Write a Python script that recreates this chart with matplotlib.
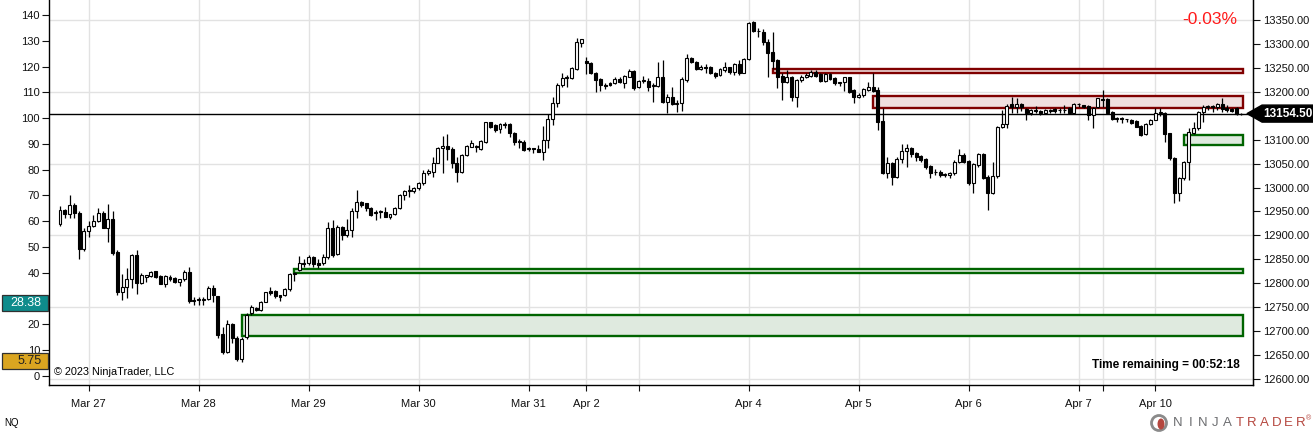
import matplotlib
matplotlib.use("Agg")
import matplotlib.pyplot as plt
import matplotlib.transforms as mtransforms
from matplotlib.patches import Rectangle, Polygon, Ellipse

plt.rcParams['font.family'] = ['Liberation Sans', 'DejaVu Sans']

# hourly NQ bars, values
opens = [58.8, 64.4, 62.7, 66.3, 63.1, 49.1, 56.3, 58.2, 60.1, 63.1,
         57.5, 60.9, 48.2, 32.7, 34.4, 37.5, 46.9, 36.2, 38.3, 38.9,
         40.7, 38.8, 35.8, 38.5, 37.9, 36.6, 37.5, 40.2, 29.2, 29.5,
         29.6, 29.9, 34.0, 31.0, 16.3, 9.4, 20.0, 14.9, 6.5, 15.0,
         24.3, 26.2, 25.6, 28.8, 33.0, 33.0, 31.3, 31.3, 33.6, 39.6,
         41.1, 43.7, 43.7, 46.3, 44.0, 43.7, 46.0, 57.5, 47.3, 57.9,
         54.7, 56.6, 64.0, 67.6, 67.0, 65.0, 63.3, 63.5, 63.7, 61.5,
         62.7, 65.0, 70.0, 71.9, 71.9, 72.8, 75.0, 78.8, 79.2, 82.7,
         88.3, 89.2, 87.9, 82.7, 79.2, 85.7, 88.9, 89.2, 88.0, 90.9,
         98.3, 97.3, 95.6, 97.3, 97.6, 94.4, 91.0, 90.9, 88.1, 88.2,
         87.9, 87.0, 91.5, 99.5, 106.0, 112.8, 115.7, 115.4, 119.0, 129.2,
         122.1, 121.5, 117.6, 115.0, 112.8, 113.7, 113.5, 115.0, 113.7, 116.1,
         118.4, 111.9, 114.4, 114.5, 112.6, 112.4, 115.8, 106.4, 108.1, 105.5,
         105.7, 114.8, 123.2, 121.9, 119.2, 119.9, 120.0, 117.6, 116.7, 118.6,
         119.7, 117.9, 121.0, 117.6, 122.8, 137.4, 133.9, 133.3, 129.6, 125.8,
         122.5, 116.3, 114.1, 115.8, 108.3, 114.8, 116.1, 116.3, 118.0, 117.0,
         114.5, 117.1, 115.4, 113.7, 114.1, 115.8, 110.9, 108.1, 109.0, 110.9,
         111.9, 110.9, 99.0, 78.6, 82.7, 77.3, 84.0, 87.4, 88.3, 86.6,
         85.3, 84.0, 81.4, 79.0, 79.2, 78.1, 77.9, 78.8, 83.1, 85.7,
         83.4, 75.0, 81.8, 86.1, 77.0, 70.8, 77.7, 96.4, 97.6, 105.3,
         104.4, 105.5, 103.4, 102.1, 102.9, 102.9, 102.1, 102.9, 103.5, 103.0,
         103.1, 103.8, 102.0, 105.3, 105.1, 104.8, 101.1, 104.4, 107.5, 107.4,
         102.4, 99.8, 99.7, 99.6, 99.4, 98.9, 97.0, 93.8, 97.9, 99.4,
         102.1, 102.1, 94.1, 84.4, 70.8, 76.6, 83.1, 94.4, 96.3, 102.4,
         104.4, 104.5, 104.2, 105.3, 103.8, 103.4, 103.8, 101.4]
highs = [65.9, 64.6, 70.2, 67.0, 64.0, 57.5, 60.1, 62.4, 65.0, 64.0,
         66.7, 64.0, 48.9, 39.4, 42.0, 47.2, 48.9, 39.8, 39.3, 40.7,
         40.8, 39.2, 39.2, 39.2, 38.4, 37.6, 41.1, 42.4, 30.7, 30.7,
         30.5, 34.9, 35.3, 31.2, 19.1, 21.7, 20.7, 15.5, 15.2, 24.3,
         27.5, 26.9, 29.1, 32.7, 34.4, 33.3, 31.4, 34.0, 39.8, 40.4,
         46.5, 45.2, 46.9, 46.5, 45.2, 47.3, 59.8, 60.5, 58.5, 58.2,
         60.7, 65.0, 72.1, 67.8, 67.2, 65.4, 64.4, 64.4, 65.7, 62.8,
         65.4, 70.4, 72.1, 74.1, 73.4, 75.4, 79.9, 80.1, 85.0, 88.9,
         93.1, 93.8, 88.9, 85.0, 86.1, 89.6, 91.5, 89.6, 91.5, 98.6,
         98.6, 97.7, 98.0, 98.6, 98.0, 94.7, 91.8, 91.5, 88.9, 88.3,
         89.6, 96.9, 101.6, 108.3, 113.5, 117.6, 116.7, 119.9, 130.9, 130.6,
         123.8, 121.9, 118.0, 115.4, 113.5, 114.1, 115.8, 115.8, 116.7, 118.9,
         118.6, 114.8, 116.3, 115.4, 113.5, 121.9, 122.7, 109.2, 111.9, 107.0,
         115.8, 124.9, 123.6, 122.1, 120.6, 120.9, 120.3, 118.0, 119.3, 121.9,
         119.9, 121.3, 122.5, 123.2, 137.4, 137.8, 134.8, 134.4, 130.5, 133.5,
         122.8, 117.4, 118.7, 116.3, 115.0, 116.6, 117.4, 118.6, 118.7, 117.4,
         117.4, 117.6, 115.8, 114.1, 116.1, 116.1, 111.2, 109.8, 111.5, 114.1,
         117.4, 111.9, 103.8, 85.0, 83.1, 85.0, 90.0, 90.0, 88.7, 87.0,
         85.7, 84.4, 81.8, 80.1, 79.9, 78.8, 79.2, 83.8, 87.9, 86.3,
         83.8, 82.5, 86.3, 86.3, 77.9, 83.1, 96.9, 103.1, 105.5, 108.3,
         107.7, 105.7, 103.8, 103.4, 104.7, 103.1, 103.4, 103.4, 103.8, 104.0,
         105.1, 104.4, 105.7, 105.7, 105.2, 105.1, 104.4, 107.9, 110.9, 107.7,
         102.9, 100.4, 100.3, 99.8, 99.8, 99.3, 97.3, 98.2, 99.8, 103.8,
         103.8, 102.4, 94.4, 84.8, 77.0, 83.4, 96.0, 98.6, 102.9, 105.1,
         105.1, 105.1, 105.7, 107.7, 105.1, 103.8, 104.4, 101.9]
lows = [58.3, 61.1, 61.4, 61.4, 45.2, 48.5, 54.0, 57.9, 59.8, 57.3,
        52.1, 46.9, 31.4, 29.5, 30.4, 34.3, 31.7, 35.6, 36.6, 38.5,
        37.9, 35.6, 34.6, 37.0, 35.9, 34.9, 37.0, 28.2, 27.5, 27.5,
        27.5, 29.5, 28.8, 14.6, 8.5, 9.0, 12.7, 5.8, 5.5, 14.2,
        23.7, 25.1, 25.3, 28.6, 31.4, 30.4, 29.1, 31.0, 33.1, 37.0,
        40.8, 42.4, 43.0, 42.4, 42.0, 43.0, 45.5, 46.3, 46.9, 52.7,
        53.8, 53.8, 61.1, 65.4, 64.1, 62.0, 60.5, 61.1, 61.6, 60.9,
        62.4, 64.6, 68.2, 69.3, 71.1, 72.1, 74.1, 77.9, 77.3, 82.5,
        78.6, 83.8, 80.5, 75.4, 78.6, 85.4, 88.7, 87.0, 87.6, 90.5,
        96.0, 94.7, 94.4, 96.0, 92.8, 89.6, 88.3, 87.4, 87.4, 86.3,
        86.8, 83.8, 88.3, 97.3, 104.4, 111.9, 111.9, 115.0, 118.6, 127.4,
        117.1, 117.1, 110.2, 110.6, 111.2, 112.4, 113.2, 113.5, 111.5, 115.8,
        110.9, 111.5, 113.7, 110.6, 106.4, 111.9, 106.0, 101.8, 105.1, 102.5,
        102.9, 114.1, 121.5, 118.6, 118.8, 117.6, 117.1, 115.4, 116.3, 117.9,
        117.1, 116.7, 116.7, 117.4, 122.5, 133.5, 131.3, 128.3, 116.1, 119.0,
        111.5, 107.0, 113.5, 106.8, 104.4, 114.1, 115.4, 116.1, 115.8, 114.1,
        114.1, 114.8, 112.8, 112.4, 110.6, 109.8, 106.0, 107.7, 108.1, 110.6,
        110.2, 95.4, 78.3, 76.6, 74.1, 76.6, 82.5, 81.2, 85.0, 83.5,
        83.1, 80.1, 76.6, 77.9, 77.3, 77.3, 76.6, 77.9, 82.7, 82.5,
        74.1, 70.8, 81.2, 76.3, 64.4, 70.6, 76.6, 96.0, 96.0, 101.8,
        101.8, 102.9, 99.3, 101.2, 101.8, 101.2, 101.6, 101.8, 101.8, 102.1,
        102.1, 101.6, 101.8, 104.4, 103.8, 99.3, 96.0, 103.8, 104.4, 101.4,
        99.4, 98.6, 98.2, 98.6, 97.9, 96.4, 93.1, 93.5, 97.3, 99.3,
        100.7, 90.9, 83.8, 67.2, 68.0, 76.0, 76.0, 93.8, 95.4, 98.6,
        103.1, 102.4, 103.1, 102.4, 102.4, 102.4, 101.1, 101.2]
closes = [64.4, 62.7, 66.3, 63.1, 49.1, 56.3, 58.2, 60.1, 63.1, 57.5,
          60.9, 47.6, 32.7, 34.4, 37.5, 46.9, 36.2, 39.2, 39.2, 40.4,
          38.3, 35.8, 38.8, 37.6, 36.6, 37.5, 40.2, 29.2, 29.5, 29.6,
          29.9, 34.0, 31.4, 15.9, 9.4, 20.0, 14.6, 6.5, 14.2, 23.7,
          26.6, 25.6, 28.6, 32.5, 32.1, 31.0, 30.8, 33.6, 39.4, 40.1,
          43.7, 43.3, 46.3, 43.3, 42.9, 46.0, 57.5, 46.9, 57.9, 54.7,
          56.6, 64.0, 67.6, 66.3, 65.0, 62.4, 63.5, 63.8, 61.8, 62.7,
          65.0, 70.2, 71.9, 72.1, 72.8, 75.0, 78.8, 79.5, 82.7, 88.3,
          89.2, 87.9, 82.7, 79.2, 85.7, 89.2, 90.2, 88.7, 91.3, 98.3,
          96.7, 95.4, 97.6, 97.4, 94.1, 90.9, 90.8, 87.6, 88.3, 88.0,
          87.0, 91.5, 99.5, 106.0, 112.8, 115.7, 115.9, 119.3, 129.6, 130.5,
          121.2, 117.6, 114.8, 112.8, 112.6, 112.8, 115.0, 114.1, 116.3, 118.4,
          111.5, 114.4, 114.6, 111.9, 112.8, 115.8, 106.4, 108.1, 105.5, 105.8,
          115.0, 123.2, 121.9, 119.0, 119.9, 119.5, 117.4, 116.3, 118.9, 119.9,
          117.9, 120.9, 117.6, 122.8, 137.0, 133.9, 133.7, 129.6, 125.4, 122.3,
          116.1, 114.1, 116.1, 108.3, 114.8, 116.1, 116.8, 118.0, 116.3, 114.5,
          117.0, 115.0, 113.7, 113.9, 115.8, 110.2, 108.1, 109.0, 111.2, 111.9,
          110.6, 98.6, 78.6, 82.5, 77.3, 84.0, 87.4, 88.3, 86.1, 85.0,
          83.8, 81.2, 78.8, 79.2, 77.9, 78.3, 78.8, 83.1, 85.7, 83.1,
          74.7, 82.1, 86.0, 76.6, 70.8, 77.7, 96.4, 97.7, 104.8, 104.4,
          105.5, 104.2, 102.1, 103.1, 102.7, 101.8, 103.1, 103.0, 102.9, 103.1,
          103.0, 101.8, 105.5, 105.4, 104.2, 101.1, 103.8, 107.7, 107.0, 101.8,
          99.8, 99.7, 99.6, 99.5, 98.2, 96.6, 93.5, 97.9, 99.4, 102.1,
          102.3, 93.8, 84.4, 70.8, 76.6, 83.1, 94.7, 96.3, 102.4, 104.4,
          104.5, 104.3, 105.3, 103.4, 103.1, 102.9, 101.4, 101.65]

# session dates (bar index of the label), "" = unlabeled tick
date_ticks = [6, 29, 52, 75, 98, 110, 121, 144, 167, 190, 213, 218, 229]
date_labels = ["Mar 27", "Mar 28", "Mar 29", "Mar 30", "Mar 31", "Apr 2", "",
               "Apr 4", "Apr 5", "Apr 6", "Apr 7", "", "Apr 10"]

# left scale; 30 sits under the indicator box
left_ticks = [0, 10, 20, 30, 40, 50, 60, 70, 80, 90, 100, 110, 120, 130, 140]
left_labels = ["0", "10", "20", "", "40", "50", "60", "70", "80", "90",
               "100", "110", "120", "130", "140"]
# price scale; 13150 sits under the last-price marker
price_ticks = [12600, 12650, 12700, 12750, 12800, 12850, 12900, 12950,
               13000, 13050, 13100, 13150, 13200, 13250, 13300, 13350]
price_grid = [12600, 12750, 12900, 13050, 13200, 13350]

# supply / demand zones in price
zone_start = [149, 170, 49, 38, 235]
zone_low = [13238.9, 13165.7, 12820.9, 12690.5, 13089.5]
zone_high = [13247.2, 13191.6, 12829.2, 12733.7, 13109.1]
zone_kind = ["supply", "supply", "demand", "demand", "demand"]
zone_end = 247.3

last_price = 13154.50
indicator_values = [28.38, 5.75]

# left scale <-> price
P0 = 12606.3
PU = 5.388


def p2v(p):
    return (p - P0) / PU


def v2p(v):
    return P0 + PU * v


W, H = 1313, 432
fig = plt.figure(figsize=(W / 100, H / 100), dpi=100)
ax = fig.add_axes([49 / W, 47 / H, 1204 / W, 385 / H])
ax.set_xlim(-2.3, 249.44)
ax.set_ylim(-3.49, 145.79)

# grid
for t in date_ticks:
    ax.axvline(t, color='#e2e2e2', lw=1, zorder=0)
for p in price_grid:
    ax.axhline(p2v(p), color='#e2e2e2', lw=1, zorder=0)

# zones
for s, lo, hi, k in zip(zone_start, zone_low, zone_high, zone_kind):
    if k == "supply":
        fc, ec = '#f0dede', '#800000'
    else:
        fc, ec = '#dfeadf', '#006400'
    ax.add_patch(Rectangle((s, p2v(lo)), zone_end - s, p2v(hi) - p2v(lo),
                           facecolor=fc, edgecolor=ec, lw=1.7, zorder=1))

# last price line
ax.axhline(p2v(last_price), color='black', lw=1, zorder=2)

# candles
xs = list(range(len(closes)))
ax.vlines(xs, lows, highs, color='black', lw=0.9, zorder=3)
bottoms = [min(o, c) for o, c in zip(opens, closes)]
heights = [max(abs(c - o), 0.25) for o, c in zip(opens, closes)]
faces = ['white' if c >= o else 'black' for o, c in zip(opens, closes)]
ax.bar(xs, heights, bottom=bottoms, width=0.62, color=faces,
       edgecolor='black', linewidth=0.8, zorder=4)

# axes styling
ax.spines['top'].set_visible(False)
for side in ['left', 'right', 'bottom']:
    ax.spines[side].set_linewidth(1)
ax.set_xticks(date_ticks)
ax.set_xticklabels(date_labels)
ax.set_yticks(left_ticks)
ax.set_yticklabels(left_labels)
ax.tick_params(axis='x', direction='out', length=4, pad=6, labelsize=8,
               colors='#111111')
ax.tick_params(axis='y', direction='out', length=5, pad=1.5, labelsize=8,
               colors='#111111')

sec = ax.secondary_yaxis('right', functions=(v2p, p2v))
sec.set_yticks(price_ticks)
sec.set_yticklabels(["" if p == 13150 else f"{p:.2f}" for p in price_ticks])
sec.tick_params(direction='out', length=5, pad=2, labelsize=8,
                colors='#111111')

# markers on the axes
blend = mtransforms.blended_transform_factory(ax.transAxes, ax.transData)
vl = p2v(last_price)
fig.add_artist(Polygon([(0.995, vl), (1.0075, vl + 3.3), (1.06, vl + 3.3),
                        (1.06, vl - 3.3), (1.0075, vl - 3.3)],
                       closed=True, facecolor='black', edgecolor='black',
                       transform=blend, clip_on=False, zorder=5))
fig.text(1.0085, vl, f"{last_price:.2f}", transform=blend, color='white',
         fontsize=8.5, fontweight='bold', ha='left', va='center', zorder=6)

box_colors = ['#0e8c8c', '#daa520']
text_colors = ['white', '#202020']
for val, bc, tc in zip(indicator_values, box_colors, text_colors):
    fig.add_artist(Rectangle((-0.0392, val - 3.2), 0.0385, 6.4,
                             facecolor=bc, edgecolor='#303030', lw=0.9,
                             transform=blend, clip_on=False, zorder=5))
    fig.text(-0.0060, val, f"{val:.2f}", transform=blend, color=tc,
             fontsize=9, ha='right', va='center', zorder=6)

# texts
fig.text(1210 / W, 1 - 20 / H, "-0.03%", color='#ff1a1a', fontsize=12.5,
         ha='center', va='center')
fig.text(1240 / W, 1 - 365 / H, "Time remaining = 00:52:18", fontsize=8.5,
         fontweight='bold', ha='right', va='center')
fig.text(54 / W, 1 - 372 / H, "\u00a9 2023 NinjaTrader, LLC", fontsize=7.8,
         ha='left', va='center')
fig.text(4 / W, 1 - 423 / H, "NQ", fontsize=7, ha='left', va='center')

# logo
fig.add_artist(Ellipse((1159 / W, 1 - 423 / H), 15 / W, 15 / H,
                       facecolor='none', edgecolor='#8a8a8a', lw=2))
fig.add_artist(Ellipse((1161 / W, 1 - 424 / H), 7 / W, 11 / H,
                       facecolor='#b5473f', edgecolor='none'))
for n, ch in enumerate("NINJATRADER"):
    col = '#6d6e71' if n < 5 else '#b5473f'
    fig.text((1178 + n * 12.3) / W, 1 - 423 / H, ch, color=col, fontsize=9.5,
             ha='center', va='center')
fig.text(1309 / W, 1 - 419 / H, "\u00ae", color='#b5473f', fontsize=5,
         ha='center', va='center')

fig.savefig("out.png", dpi=100)
